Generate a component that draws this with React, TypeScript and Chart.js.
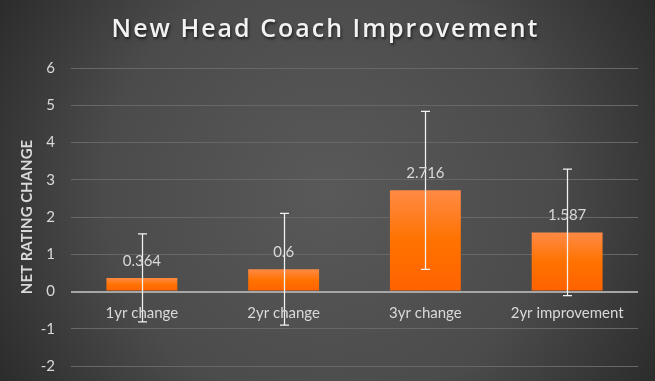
import React, { useEffect, useRef } from "react";
import { Chart, registerables } from "chart.js";

Chart.register(...registerables);

const categories = ["1yr change", "2yr change", "3yr change", "2yr improvement"];
const values = [0.364, 0.6, 2.716, 1.587];
const errors = [1.18, 1.5, 2.12, 1.7];
const valueLabels = ["0.364", "0.6", "2.716", "1.587"];
const yTicks = [-2, -1, 0, 1, 2, 3, 4, 5, 6];
const titleText = "New Head Coach Improvement";
const yTitle = "NET RATING CHANGE";

const FONT = "Lato, 'Open Sans', sans-serif";

const customPlugin = {
  id: "custom",
  beforeDraw(chart: any) {
    const { ctx, width, height } = chart;
    ctx.save();
    const g = ctx.createRadialGradient(width / 2, height / 2, 0, width / 2, height / 2, width * 0.62);
    g.addColorStop(0, "#595959");
    g.addColorStop(0.55, "#4b4b4b");
    g.addColorStop(1, "#262626");
    ctx.fillStyle = g;
    ctx.fillRect(0, 0, width, height);
    ctx.restore();
  },
  afterDatasetsDraw(chart: any) {
    const { ctx } = chart;
    const x = chart.scales.x;
    const y = chart.scales.y;
    ctx.save();
    // error bars
    ctx.strokeStyle = "#f2f2f2";
    ctx.lineWidth = 1.25;
    values.forEach((v, i) => {
      const px = Math.round(x.getPixelForValue(i)) + 0.5;
      const top = y.getPixelForValue(v + errors[i]);
      const bot = y.getPixelForValue(v - errors[i]);
      ctx.beginPath();
      ctx.moveTo(px, top);
      ctx.lineTo(px, bot);
      ctx.moveTo(px - 4.5, top);
      ctx.lineTo(px + 4.5, top);
      ctx.moveTo(px - 4.5, bot);
      ctx.lineTo(px + 4.5, bot);
      ctx.stroke();
    });
    // value labels
    ctx.fillStyle = "#d9d9d9";
    ctx.font = `15px ${FONT}`;
    ctx.textAlign = "center";
    ctx.textBaseline = "middle";
    values.forEach((v, i) => {
      const px = x.getPixelForValue(i);
      const py = y.getPixelForValue(v) - 17;
      ctx.fillText(valueLabels[i], px, py);
    });
    // category labels
    const zero = y.getPixelForValue(0);
    categories.forEach((c, i) => {
      ctx.fillText(c, x.getPixelForValue(i), zero + 22);
    });
    // title
    ctx.font = `600 25px 'Open Sans', sans-serif`;
    (ctx as any).letterSpacing = "2px";
    ctx.textBaseline = "alphabetic";
    ctx.shadowColor = "rgba(0,0,0,0.6)";
    ctx.shadowOffsetX = 1;
    ctx.shadowOffsetY = 2;
    ctx.shadowBlur = 3;
    ctx.fillStyle = "#f2f2f2";
    ctx.fillText(titleText, chart.width / 2 - 2, 37);
    ctx.restore();
  },
};

export default function App() {
  const ref = useRef<HTMLCanvasElement>(null);
  useEffect(() => {
    const canvas = ref.current!;
    const chart = new Chart(canvas, {
      type: "bar",
      data: {
        labels: categories,
        datasets: [
          {
            data: values,
            backgroundColor: (c: any) => {
              const ch = c.chart;
              const area = ch.chartArea;
              if (!area) return "#ff7300";
              const yS = ch.scales.y;
              const top = yS.getPixelForValue(values[c.dataIndex] ?? 0);
              const bot = yS.getPixelForValue(0);
              const g = ch.ctx.createLinearGradient(0, top, 0, bot);
              g.addColorStop(0, "#ff8a45");
              g.addColorStop(0.5, "#ff7200");
              g.addColorStop(1, "#ff6200");
              return g;
            },
            borderWidth: 0,
            categoryPercentage: 1,
            barPercentage: 0.5,
          },
        ],
      },
      options: {
        animation: false,
        responsive: false,
        maintainAspectRatio: false,
        layout: { padding: { left: 14, right: 17, top: 68, bottom: 15 } },
        plugins: {
          legend: { display: false },
          tooltip: { enabled: false },
          title: { display: false },
        },
        scales: {
          x: {
            display: false,
          },
          y: {
            min: -2,
            max: 6,
            afterBuildTicks: (s: any) => {
              s.ticks = yTicks.map((v) => ({ value: v }));
            },
            afterFit: (s: any) => {
              s.width = 57;
              s.paddingTop = 0;
              s.paddingBottom = 0;
            },
            border: { display: false },
            grid: {
              drawTicks: false,
              color: (c: any) => (c.tick && c.tick.value === 0 ? "#a6a6a6" : "#676767"),
              lineWidth: (c: any) => (c.tick && c.tick.value === 0 ? 2 : 1),
            },
            ticks: {
              padding: 16,
              color: "#d9d9d9",
              font: { family: FONT, size: 15 },
              callback: (v: any) => String(v),
            },
            title: {
              display: true,
              text: yTitle,
              color: "#d9d9d9",
              font: { family: FONT, size: 15, weight: "bold" },
              padding: { top: 4, bottom: 4 },
            },
          },
        },
      },
      plugins: [customPlugin],
    });
    return () => chart.destroy();
  }, []);
  return (
    <div style={{ position: "fixed", left: 0, top: 0, width: 655, height: 381 }}>
      <canvas ref={ref} width={655} height={381} style={{ display: "block", width: 655, height: 381 }} />
    </div>
  );
}
